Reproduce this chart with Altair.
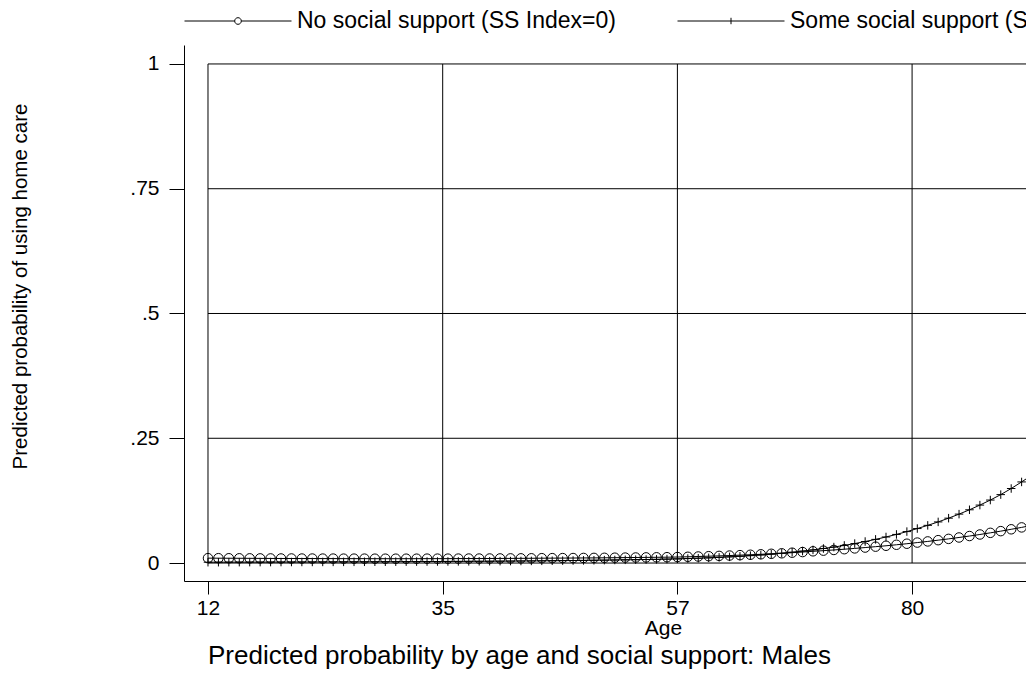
import altair as alt
import pandas as pd

# ---------------- data ----------------
ages = list(range(12, 103))
series_names = ["No social support (SS Index=0)", "Some social support (SS Index=1)"]

p_none = [
    .0098, .0097, .0096, .0095, .0094, .0093, .0092, .0091, .0091, .0090,
    .0090, .0089, .0089, .0088, .0088, .0088, .0087, .0087, .0087, .0087,
    .0087, .0088, .0088, .0088, .0089, .0090, .0090, .0091, .0092, .0093,
    .0094, .0095, .0097, .0098, .0099, .0100, .0102, .0103, .0105, .0107,
    .0109, .0111, .0113, .0115, .0117, .0120, .0125, .0131, .0137, .0143,
    .0150, .0158, .0166, .0175, .0185, .0195, .0207, .0220, .0235, .0248,
    .0262, .0277, .0293, .0310, .0328, .0346, .0366, .0387, .0410, .0433,
    .0458, .0484, .0512, .0541, .0572, .0605, .0639, .0676, .0714, .0755,
    .0798, .0843, .0891, .0942, .0996, .1052, .1112, .1176, .1243, .1314,
    .1389,
]
p_some = [
    .00166, .00170, .00175, .00179, .00184, .00188, .00193, .00198, .00203, .00209,
    .00215, .00221, .00227, .00233, .00240, .00247, .00253, .00261, .00268, .00277,
    .00287, .00297, .00307, .00317, .00328, .00339, .00351, .00363, .00376, .00391,
    .00407, .00423, .00440, .00458, .00480, .00504, .00529, .00555, .00582, .00610,
    .00640, .00671, .00704, .00739, .00785, .00833, .00900, .00966, .0104, .0114,
    .0124, .0135, .0148, .0162, .0178, .0196, .0217, .0239, .0263, .0291,
    .0320, .0353, .0390, .0431, .0474, .0522, .0573, .0630, .0691, .0755,
    .0824, .0899, .0980, .1067, .1161, .1262, .1371, .1493, .1625, .1765,
    .1915, .2075, .2244, .2423, .2611, .2809, .3015, .3230, .3452, .3682,
    .3917,
]
assert len(p_none) == len(ages) and len(p_some) == len(ages)

x_ticks = [12, 34.5, 57, 79.5, 102]
y_ticks = [0, 0.25, 0.5, 0.75, 1]
y_tick_labels = ["0", ".25", ".5", ".75", "1"]

title_text = "Predicted probability by age and social support: Males"
x_title = "Age"
y_title = "Predicted probability of using home care"

# ---------------- tables ----------------
df = pd.DataFrame({
    "age": ages * 2,
    "prob": p_none + p_some,
    "series": [series_names[0]] * len(ages) + [series_names[1]] * len(ages),
})
vgrid = pd.DataFrame({"xt": x_ticks, "y0": y_ticks[0], "y1": y_ticks[-1]})
hgrid = pd.DataFrame({"yt": y_ticks, "x0": x_ticks[0], "x1": x_ticks[-1]})

# ---------------- style ----------------
FONT = "Liberation Sans"
W, H = 842, 536
x_scale = alt.Scale(domain=[9.7, 90.42], nice=False, zero=False)
y_scale = alt.Scale(domain=[-0.036, 1.038], nice=False, zero=False)

plus_path = "M-1,0L1,0M0,-1L0,1"
leg_circle = ("M-1,0L-0.062,0M0.062,0A0.062,0.062,0,1,1,-0.062,0"
              "A0.062,0.062,0,1,1,0.062,0M0.062,0L1,0")
leg_plus = "M-1,0L1,0M0,-0.06L0,0.06"

y_label_expr = " : ".join(
    f"datum.value == {v} ? '{l}'" for v, l in zip(y_ticks, y_tick_labels)
) + " : datum.label"

x_axis = alt.Axis(
    values=x_ticks, format="d", grid=False,
    domainColor="black", domainWidth=1, tickColor="black", tickWidth=1, tickSize=13,
    labelFont=FONT, labelFontSize=21, labelColor="black", labelPadding=3,
    labelFlush=False, labelOverlap=False,
    title=x_title, titleFont=FONT, titleFontSize=21, titleFontWeight="normal",
    titleColor="black", titleX=479, titleY=53, titleBaseline="alphabetic",
    titleAlign="center",
)
y_axis = alt.Axis(
    values=y_ticks, labelExpr=y_label_expr, grid=False,
    domainColor="black", domainWidth=1, tickColor="black", tickWidth=1, tickSize=15,
    labelFont=FONT, labelFontSize=21, labelColor="black", labelPadding=10,
    labelOverlap=False,
    title=y_title, titleFont=FONT, titleFontSize=20.5, titleFontWeight="normal",
    titleColor="black", titleX=-158, titleY=241, titleAngle=270,
    titleBaseline="alphabetic", titleAlign="center",
)

base = alt.Chart(df)

vg = alt.Chart(vgrid).mark_rule(color="black", strokeWidth=1, clip=True).encode(
    x=alt.X("xt:Q", scale=x_scale, axis=x_axis),
    y=alt.Y("y0:Q", scale=y_scale, axis=y_axis),
    y2="y1:Q",
)
hg = alt.Chart(hgrid).mark_rule(color="black", strokeWidth=1, clip=True).encode(
    y=alt.Y("yt:Q", scale=y_scale, axis=y_axis),
    x=alt.X("x0:Q", scale=x_scale, axis=x_axis),
    x2="x1:Q",
)
lines = base.mark_line(color="black", strokeWidth=1, clip=True).encode(
    x=alt.X("age:Q", scale=x_scale, axis=x_axis),
    y=alt.Y("prob:Q", scale=y_scale, axis=y_axis),
    detail="series:N",
)
pts_none = base.transform_filter(alt.datum.series == series_names[0]).mark_point(
    shape="circle", size=90, filled=False, color="black", strokeWidth=1, opacity=1, clip=True
).encode(
    x=alt.X("age:Q", scale=x_scale, axis=x_axis),
    y=alt.Y("prob:Q", scale=y_scale, axis=y_axis),
)
pts_some = base.transform_filter(alt.datum.series == series_names[1]).mark_point(
    shape=plus_path, size=72, filled=False, color="black", strokeWidth=1, opacity=1, clip=True
).encode(
    x=alt.X("age:Q", scale=x_scale, axis=x_axis),
    y=alt.Y("prob:Q", scale=y_scale, axis=y_axis),
)
legend_layer = base.transform_filter("false").mark_point(
    filled=False, color="black", strokeWidth=1, opacity=1
).encode(
    x=alt.X("age:Q", scale=x_scale, axis=x_axis),
    y=alt.Y("prob:Q", scale=y_scale, axis=y_axis),
    shape=alt.Shape(
        "series:N",
        scale=alt.Scale(domain=series_names, range=[leg_circle, leg_plus]),
        legend=alt.Legend(
            title=None, orient="none", legendX=0, legendY=-78, direction="horizontal",
            padding=0, symbolSize=11449, symbolStrokeWidth=1, symbolStrokeColor="black",
            symbolFillColor="transparent", symbolOpacity=1,
            labelFont=FONT, labelFontSize=23, labelColor="black", labelOffset=5,
            labelLimit=1000, columnPadding=59,
        ),
    ),
)

chart = alt.layer(vg, hg, lines, pts_none, pts_some, legend_layer).properties(
    width=W, height=H,
    title=alt.TitleParams(
        title_text, orient="bottom", anchor="start", frame="group", dx=24, offset=26,
        baseline="alphabetic", font=FONT, fontSize=26, fontWeight="normal", color="black",
    ),
    autosize=alt.AutoSizeParams(type="none"),
    padding={"left": 176, "top": 37, "right": 0, "bottom": 88},
    background="white",
).configure_view(strokeWidth=0)

chart.save("out.html", embed_options={"renderer": "svg", "actions": False})
